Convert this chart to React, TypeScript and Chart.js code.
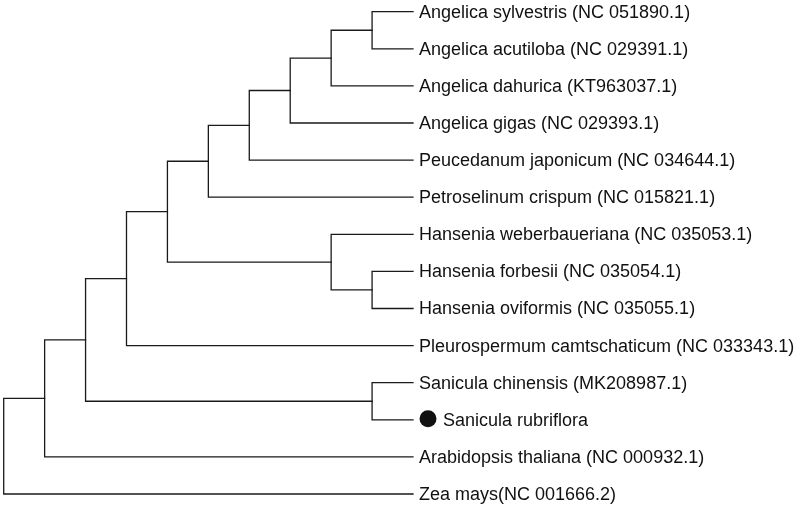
import React, { useEffect, useRef } from "react";
import { Chart, registerables } from "chart.js";

Chart.register(...registerables);

// Leaf taxa, top to bottom
const leafNames: string[] = [
  "Angelica sylvestris (NC 051890.1)",
  "Angelica acutiloba (NC 029391.1)",
  "Angelica dahurica (KT963037.1)",
  "Angelica gigas (NC 029393.1)",
  "Peucedanum japonicum (NC 034644.1)",
  "Petroselinum crispum (NC 015821.1)",
  "Hansenia weberbaueriana (NC 035053.1)",
  "Hansenia forbesii (NC 035054.1)",
  "Hansenia oviformis (NC 035055.1)",
  "Pleurospermum camtschaticum (NC 033343.1)",
  "Sanicula chinensis (MK208987.1)",
  "Sanicula rubriflora",
  "Arabidopsis thaliana (NC 000932.1)",
  "Zea mays(NC 001666.2)",
];
// Leaf marked with a filled circle
const markedLeaf = "Sanicula rubriflora";
const leafDepth = 10;

// Internal nodes (cladogram): children refer to "L<i>" leaves or "N<j>" nodes; depth = column level
const nodeNames: string[] = ["N0", "N1", "N2", "N3", "N4", "N5", "N6", "N7", "N8", "N9", "N10", "N11", "N12"];
const nodeChildren: [string, string][] = [
  ["L0", "L1"],   // N0
  ["N0", "L2"],   // N1
  ["N1", "L3"],   // N2
  ["N2", "L4"],   // N3
  ["N3", "L5"],   // N4
  ["L7", "L8"],   // N5
  ["L6", "N5"],   // N6
  ["N4", "N6"],   // N7
  ["N7", "L9"],   // N8
  ["L10", "L11"], // N9
  ["N8", "N9"],   // N10
  ["N10", "L12"], // N11
  ["N11", "L13"], // N12 (root)
];
const nodeDepths: number[] = [9, 8, 7, 6, 5, 9, 8, 4, 3, 9, 2, 1, 0];

export default function App() {
  const canvasRef = useRef<HTMLCanvasElement | null>(null);

  useEffect(() => {
    const canvas = canvasRef.current;
    if (!canvas) return;

    const pos: Record<string, { x: number; y: number }> = {};
    leafNames.forEach((_, i) => {
      pos["L" + i] = { x: leafDepth, y: i };
    });
    nodeNames.forEach((n, j) => {
      const [a, b] = nodeChildren[j];
      pos[n] = { x: nodeDepths[j], y: (pos[a].y + pos[b].y) / 2 };
    });

    const datasets: any[] = nodeNames.map((n, j) => {
      const [a, b] = nodeChildren[j];
      const pa = pos[a];
      const pb = pos[b];
      const p = pos[n];
      return {
        type: "line",
        data: [
          { x: pa.x, y: pa.y },
          { x: p.x, y: pa.y },
          { x: p.x, y: pb.y },
          { x: pb.x, y: pb.y },
        ],
        borderColor: "#1a1a1a",
        borderWidth: 1.3,
        pointRadius: 0,
        fill: false,
        tension: 0,
        borderCapStyle: "square",
      };
    });

    const labelPlugin = {
      id: "leafLabels",
      afterDatasetsDraw(chart: any) {
        const ctx = chart.ctx;
        const xs = chart.scales.x;
        const ys = chart.scales.y;
        ctx.save();
        ctx.font = '18px "Liberation Sans", Arial, sans-serif';
        ctx.fillStyle = "#111";
        ctx.textBaseline = "middle";
        ctx.textAlign = "left";
        leafNames.forEach((name, i) => {
          const px = xs.getPixelForValue(leafDepth);
          const py = ys.getPixelForValue(i);
          let tx = px + 6;
          if (name === markedLeaf) {
            ctx.beginPath();
            ctx.arc(px + 15, py - 1, 8.5, 0, Math.PI * 2);
            ctx.fill();
            tx = px + 30;
          }
          ctx.fillText(name, tx, py + 1);
        });
        ctx.restore();
      },
    };

    const chart = new Chart(canvas, {
      type: "scatter",
      data: { datasets },
      options: {
        animation: false,
        responsive: false,
        maintainAspectRatio: false,
        layout: { padding: 0 },
        plugins: { legend: { display: false }, tooltip: { enabled: false } },
        scales: {
          x: { type: "linear", display: false, min: -0.0904, max: 19.455 },
          y: { type: "linear", display: false, reverse: true, min: -0.315, max: 13.324 },
        },
      },
      plugins: [labelPlugin],
    });
    return () => chart.destroy();
  }, []);

  return (
    <div style={{ position: "fixed", left: 0, top: 0, width: 800, height: 506, background: "#fff" }}>
      <canvas ref={canvasRef} width={800} height={506} style={{ display: "block", width: 800, height: 506 }} />
    </div>
  );
}
